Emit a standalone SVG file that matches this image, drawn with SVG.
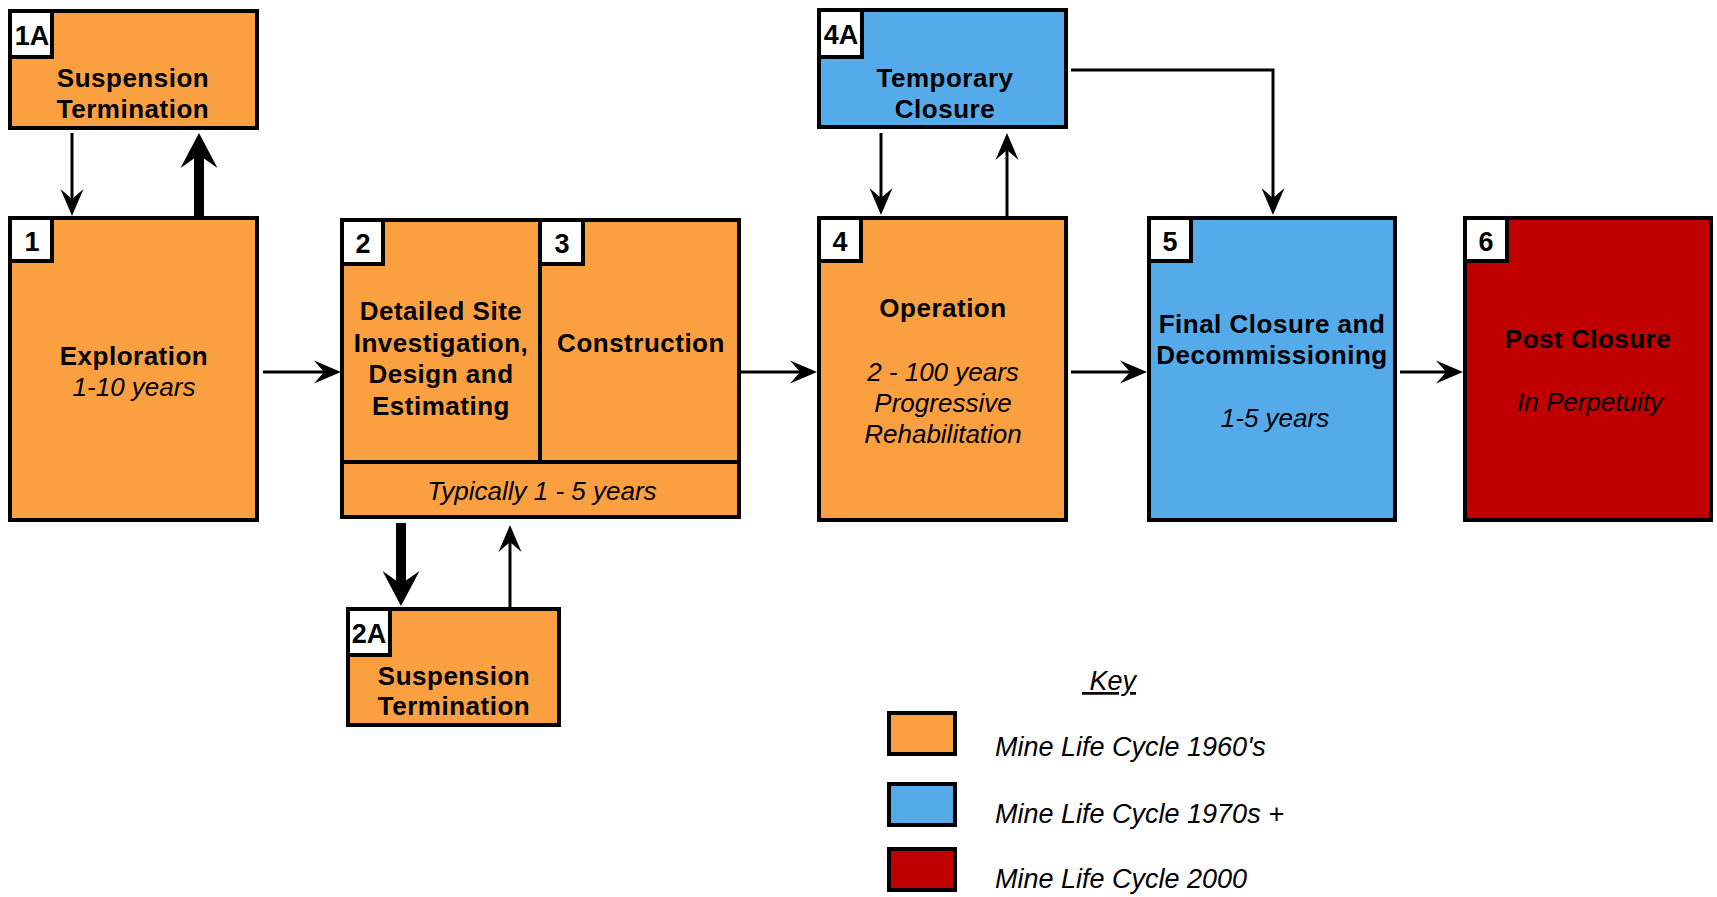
<svg xmlns="http://www.w3.org/2000/svg" width="1717" height="897" viewBox="0 0 1717 897">
<style>
.box{stroke:#000;stroke-width:4}
.or{fill:#FBA040}
.bl{fill:#55AAE9}
.rd{fill:#C00000}
.lab{fill:#fff;stroke:#000;stroke-width:4}
.t{font-family:"Liberation Sans",Arial,sans-serif;font-size:26px;fill:#000;text-anchor:middle}
.b{font-weight:bold;letter-spacing:0.5px}
.i{font-style:italic}
.n{font-family:"Liberation Sans",Arial,sans-serif;font-size:27px;font-weight:bold;fill:#000;text-anchor:middle}
.k{font-family:"Liberation Sans",Arial,sans-serif;font-size:27px;font-style:italic;fill:#000}
.c{stroke:#000;stroke-width:3;fill:none}
.cb{stroke:#000;stroke-width:10;fill:none}
</style>
<defs>
<marker id="ah" markerUnits="userSpaceOnUse" markerWidth="28" markerHeight="24" viewBox="0 -12 28 24" refX="10" refY="0" orient="auto">
<path d="M0,-11.5 L27,0 L0,11.5 L10,0 Z" fill="#000"/>
</marker>
<marker id="ahb" markerUnits="userSpaceOnUse" markerWidth="36" markerHeight="38" viewBox="0 -19 36 38" refX="13" refY="0" orient="auto">
<path d="M0,-18.5 L35,0 L0,18.5 L13,0 Z" fill="#000"/>
</marker>
</defs>
<rect width="1717" height="897" fill="#fff"/>
<g id="connectors">
<line class="c" x1="72" y1="133" x2="72" y2="199" marker-end="url(#ah)"/>
<line class="cb" x1="199" y1="216" x2="199" y2="155" marker-end="url(#ahb)"/>
<line class="c" x1="263" y1="372" x2="324" y2="372" marker-end="url(#ah)"/>
<line class="cb" x1="401" y1="523" x2="401" y2="584" marker-end="url(#ahb)"/>
<line class="c" x1="510" y1="607" x2="510" y2="542" marker-end="url(#ah)"/>
<line class="c" x1="741" y1="372" x2="800" y2="372" marker-end="url(#ah)"/>
<line class="c" x1="881" y1="133" x2="881" y2="198" marker-end="url(#ah)"/>
<line class="c" x1="1007" y1="216" x2="1007" y2="150" marker-end="url(#ah)"/>
<path class="c" d="M1071,70 H1273 V198" marker-end="url(#ah)"/>
<line class="c" x1="1071" y1="372" x2="1130" y2="372" marker-end="url(#ah)"/>
<line class="c" x1="1400" y1="372" x2="1446" y2="372" marker-end="url(#ah)"/>
</g>
<g id="node-1A">
<rect class="box or" x="10" y="11" width="247" height="117"/>
<rect class="lab" x="10" y="11" width="42" height="46"/>
<text class="n" x="32" y="45">1A</text>
<text class="t b" x="133" y="87">Suspension</text>
<text class="t b" x="133" y="118">Termination</text>
</g>
<g id="node-1">
<rect class="box or" x="10" y="218" width="247" height="302"/>
<rect class="lab" x="10" y="218" width="42" height="43"/>
<text class="n" x="32" y="251">1</text>
<text class="t b" x="134" y="365">Exploration</text>
<text class="t i" x="134" y="396">1-10 years</text>
</g>
<g id="node-2">
<rect class="box or" x="342" y="220" width="198" height="242"/>
<rect class="lab" x="342" y="220" width="41" height="44"/>
<text class="n" x="363" y="253">2</text>
<text class="t b" x="441" y="320">Detailed Site</text>
<text class="t b" x="441" y="352">Investigation,</text>
<text class="t b" x="441" y="383">Design and</text>
<text class="t b" x="441" y="415">Estimating</text>
</g>
<g id="node-3">
<rect class="box or" x="540" y="220" width="199" height="242"/>
<rect class="lab" x="540" y="220" width="43" height="44"/>
<text class="n" x="562" y="253">3</text>
<text class="t b" x="641" y="352">Construction</text>
</g>
<g id="node-2-3-duration">
<rect class="box or" x="342" y="462" width="397" height="55"/>
<text class="t i" x="542" y="500">Typically 1 - 5 years</text>
</g>
<g id="node-2A">
<rect class="box or" x="348" y="609" width="211" height="116"/>
<rect class="lab" x="348" y="609" width="42" height="46"/>
<text class="n" x="369" y="643">2A</text>
<text class="t b" x="454" y="685">Suspension</text>
<text class="t b" x="454" y="715">Termination</text>
</g>
<g id="node-4A">
<rect class="box bl" x="819" y="10" width="247" height="117"/>
<rect class="lab" x="819" y="10" width="43" height="47"/>
<text class="n" x="841" y="44">4A</text>
<text class="t b" x="945" y="87">Temporary</text>
<text class="t b" x="945" y="118">Closure</text>
</g>
<g id="node-4">
<rect class="box or" x="819" y="218" width="247" height="302"/>
<rect class="lab" x="819" y="218" width="42" height="43"/>
<text class="n" x="840" y="251">4</text>
<text class="t b" x="943" y="317">Operation</text>
<text class="t i" x="943" y="381">2 - 100 years</text>
<text class="t i" x="943" y="412">Progressive</text>
<text class="t i" x="943" y="443">Rehabilitation</text>
</g>
<g id="node-5">
<rect class="box bl" x="1149" y="218" width="246" height="302"/>
<rect class="lab" x="1149" y="218" width="42" height="43"/>
<text class="n" x="1170" y="251">5</text>
<text class="t b" x="1272" y="333">Final Closure and</text>
<text class="t b" x="1272" y="364">Decommissioning</text>
<text class="t i" x="1275" y="427">1-5 years</text>
</g>
<g id="node-6">
<rect class="box rd" x="1465" y="218" width="246" height="302"/>
<rect class="lab" x="1465" y="218" width="42" height="43"/>
<text class="n" x="1486" y="251">6</text>
<text class="t b" x="1588" y="348">Post Closure</text>
<text class="t i" x="1590" y="411">In Perpetuity</text>
</g>
<g id="legend">
<text class="k" x="1082" y="690" text-decoration="underline">&#160;Key</text>
<rect class="box or" x="889" y="713" width="66" height="41"/>
<text class="k" x="995" y="756">Mine Life Cycle 1960's</text>
<rect class="box bl" x="889" y="784" width="66" height="41"/>
<text class="k" x="995" y="823">Mine Life Cycle 1970s +</text>
<rect class="box rd" x="889" y="849" width="66" height="41"/>
<text class="k" x="995" y="888">Mine Life Cycle 2000</text>
</g>
</svg>
